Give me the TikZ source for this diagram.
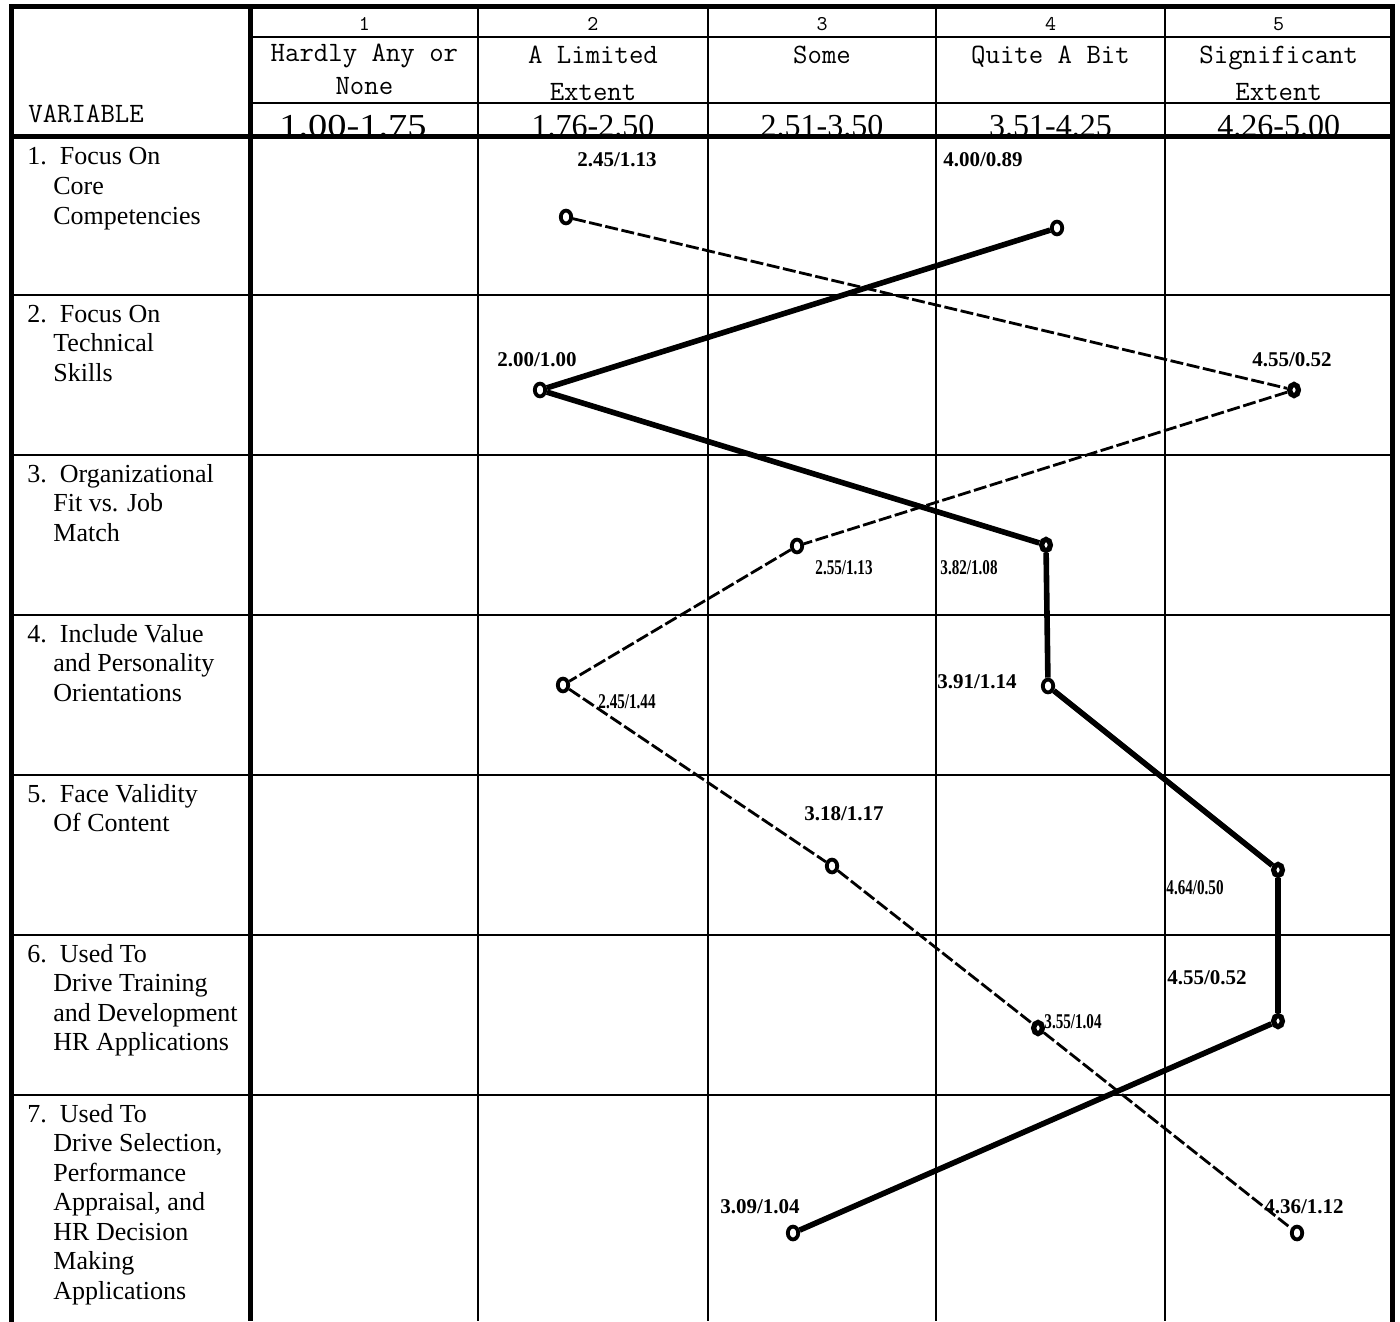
\documentclass[tikz,border=0pt]{standalone}
\usepackage{fontspec}
\setmainfont{Liberation Serif}
\usetikzlibrary{shapes.geometric}
\newcommand{\hdrtext}[2]{\ttfamily\fontsize{14}{#1}\selectfont\begin{tabular}[t]{@{}c@{}}#2\end{tabular}}
\newcommand{\rowlab}[1]{\fontsize{13}{14.75}\selectfont\begin{tabular}[t]{@{}l@{}}#1\end{tabular}}
\newcommand{\ind}{\hspace*{13pt}}
\newcommand{\cnd}[1]{\scalebox{0.72}[1]{#1}}
\begin{document}
\begin{tikzpicture}[x=0.5pt,y=-0.5pt,
  gridthin/.style={line width=1pt},
  gridthick/.style={line width=2.5pt},
  ring/.style={ellipse, draw, line width=1.9pt, minimum width=5.2pt, minimum height=6.4pt, inner sep=0pt, fill=white},
  ringfull/.style={ring, line width=2.6pt, minimum width=4.4pt, minimum height=5.6pt},
  lab/.style={inner sep=0pt, font=\bfseries\fontsize{10.5}{12}\selectfont},
  numtxt/.style={inner sep=0pt, font=\ttfamily\fontsize{10.5}{12}\selectfont},
  hdr/.style={anchor=base, inner sep=0pt},
  rng/.style={anchor=base, inner sep=0pt, font=\fontsize{16}{18}\selectfont},
  varlab/.style={anchor=base west, inner sep=0pt},
  dashline/.style={line width=1.4pt, dash pattern=on 6.5pt off 1.8pt},
  solidline/.style={line width=2.8pt, line join=round}]
\useasboundingbox (0,0) rectangle (1400,1321);

% ---------- header texts ----------
\node[numtxt] (n1) at (364.4,24) {1};
\node[numtxt] (n2) at (593,24) {2};
\node[numtxt] (n3) at (822,24) {3};
\node[numtxt] (n4) at (1050.5,24) {4};
\node[numtxt] (n5) at (1278.7,24) {5};

\node[hdr] (h1) at (364.4,62) {\hdrtext{16.5}{Hardly Any or\\None}};
\node[hdr] (h2) at (593,64) {\hdrtext{18.5}{A Limited\\Extent}};
\node[hdr] (h3) at (822,64) {\hdrtext{18.5}{Some}};
\node[hdr] (h4) at (1050.5,64) {\hdrtext{18.5}{Quite A Bit}};
\node[hdr] (h5) at (1278.7,64) {\hdrtext{18.5}{Significant\\Extent}};

\node[varlab, font=\ttfamily\fontsize{14}{16}\selectfont] (var) at (28,123) {VARIABLE};

\node[rng] (r1) at (353,137) {\scalebox{1.2}[1]{1.00-1.75}};
\node[rng] (r2) at (593,137) {1.76-2.50};
\node[rng] (r3) at (822,137) {2.51-3.50};
\node[rng] (r4) at (1050.5,137) {3.51-4.25};
\node[rng] (r5) at (1278.7,137) {4.26-5.00};

% ---------- grid ----------
\foreach \yy in {295,455,615,775,935,1095}
  \draw[gridthin] (11.7,\yy) -- (1392.5,\yy);
\foreach \yy in {37,103}
  \draw[gridthin] (250.8,\yy) -- (1392.5,\yy);
\foreach \xx in {478,708,936,1165}
  \draw[gridthin] (\xx,7) -- (\xx,1321);
\draw[gridthick] (11.7,136.5) -- (1392.5,136.5);
\draw[gridthick] (250.8,7) -- (250.8,1321);
\draw[gridthick, line cap=rect] (11.7,1325) -- (11.7,7) -- (1392.5,7) -- (1392.5,1325);

% ---------- row labels ----------
\node[varlab] (v1) at (27,165) {\rowlab{1.\ \ Focus On\\\ind Core\\\ind Competencies}};
\node[varlab] (v2) at (27,322) {\rowlab{2.\ \ Focus On\\\ind Technical\\\ind Skills}};
\node[varlab] (v3) at (27,482) {\rowlab{3.\ \ Organizational\\\ind Fit vs. Job\\\ind Match}};
\node[varlab] (v4) at (27,642) {\rowlab{4.\ \ Include Value\\\ind and Personality\\\ind Orientations}};
\node[varlab] (v5) at (27,802) {\rowlab{5.\ \ Face Validity\\\ind Of Content}};
\node[varlab] (v6) at (27,962) {\rowlab{6.\ \ Used To\\\ind Drive Training\\\ind and Development\\\ind HR Applications}};
\node[varlab] (v7) at (27,1122) {\rowlab{7.\ \ Used To\\\ind Drive Selection,\\\ind Performance\\\ind Appraisal, and\\\ind HR Decision\\\ind Making\\\ind Applications}};

% ---------- data points: dashed series ----------
\node[ring] (d1) at (566,217) {};
\node[ringfull] (d2) at (1294,390) {};
\node[ring] (d3) at (797,546) {};
\node[ring] (d4) at (563,685) {};
\node[ring] (d5) at (832,866) {};
\node[ringfull] (d6) at (1038,1028) {};
\node[ring] (d7) at (1297,1233) {};

% ---------- data points: solid series ----------
\node[ring] (s1) at (1057,228) {};
\node[ring] (s2) at (540,390) {};
\node[ringfull] (s3) at (1046,545) {};
\node[ring] (s4) at (1048,686) {};
\node[ringfull] (s5) at (1278,870) {};
\node[ringfull] (s6) at (1278,1021) {};
\node[ring] (s7) at (793,1233) {};

% ---------- connectors ----------
\draw[dashline] (d1) -- (d2) -- (d3) -- (d4) -- (d5) -- (d6) -- (d7);
\draw[solidline] (s1) -- (s2) -- (s3) -- (s4) -- (s5) -- (s6) -- (s7);

% ---------- value labels ----------
\node[lab] (ld1) at (617,160) {2.45/1.13};
\node[lab] (ld2) at (1292,360) {4.55/0.52};
\node[lab] (ld3) at (844,568) {\cnd{2.55/1.13}};
\node[lab] (ld4) at (627,702) {\cnd{2.45/1.44}};
\node[lab] (ld5) at (844,814) {3.18/1.17};
\node[lab] (ld6) at (1073,1022) {\cnd{3.55/1.04}};
\node[lab] (ld7) at (1304,1207) {4.36/1.12};

\node[lab] (ls1) at (983,160) {4.00/0.89};
\node[lab] (ls2) at (537,360) {2.00/1.00};
\node[lab] (ls3) at (969,568) {\cnd{3.82/1.08}};
\node[lab] (ls4) at (977,682) {3.91/1.14};
\node[lab] (ls5) at (1195,888) {\cnd{4.64/0.50}};
\node[lab] (ls6) at (1207,978) {4.55/0.52};
\node[lab] (ls7) at (760,1207) {3.09/1.04};
\end{tikzpicture}
\end{document}
